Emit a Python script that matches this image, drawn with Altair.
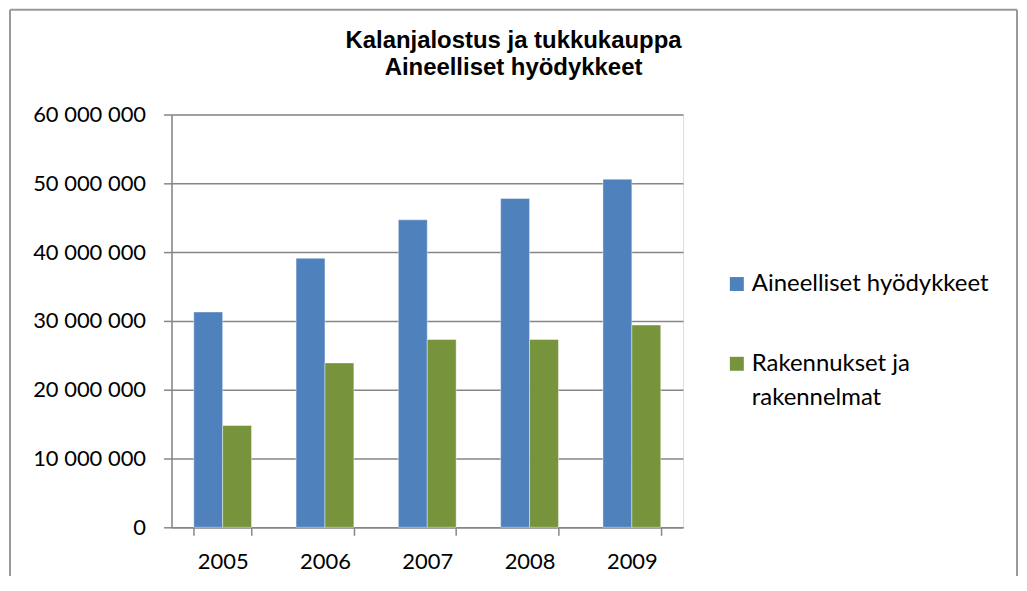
import altair as alt
import pandas as pd

years = ["2005", "2006", "2007", "2008", "2009"]
aineelliset = [31300000, 39100000, 44700000, 47800000, 50600000]
rakennukset = [14800000, 23900000, 27300000, 27300000, 29400000]
series = ["Aineelliset hyödykkeet", "Rakennukset ja rakennelmat"]
legend_lines = {"Rakennukset ja rakennelmat": ["Rakennukset ja", "rakennelmat"]}
colors = ["#4F81BD", "#77933C"]
y_ticks = [0, 10000000, 20000000, 30000000, 40000000, 50000000, 60000000]
title_lines = ["Kalanjalostus ja tukkukauppa", "Aineelliset hyödykkeet"]

rows = []
for i, yr in enumerate(years):
    rows.append({"vuosi": yr, "sarja": series[0], "arvo": aineelliset[i]})
    rows.append({"vuosi": yr, "sarja": series[1], "arvo": rakennukset[i]})
df = pd.DataFrame(rows)

W, H = 513, 414
GRAY = "#868686"
FONT = "Lato"

# legend label expression (multi-line for the long label)
expr = "datum.label"
for k, v in legend_lines.items():
    arr = "[" + ", ".join("'" + s + "'" for s in v) + "]"
    expr = f"datum.label == '{k}' ? {arr} : " + expr

bars = alt.Chart(df).mark_bar(stroke="white", strokeWidth=0.7, strokeOpacity=0.6).encode(
    x=alt.X("vuosi:N", sort=years, title=None,
            scale=alt.Scale(paddingInner=0.435, paddingOuter=0.2175),
            axis=alt.Axis(labelAngle=0, tickBand="extent", tickSize=8, tickColor=GRAY,
                          tickWidth=1.5, domainColor=GRAY, domainWidth=1.5,
                          labelFont=FONT, labelFontSize=22, labelColor="black",
                          labelPadding=16, grid=False)),
    xOffset=alt.XOffset("sarja:N", sort=series,
                        scale=alt.Scale(paddingInner=0, paddingOuter=0)),
    y=alt.Y("arvo:Q", title=None,
            scale=alt.Scale(domain=[0, 60000000], nice=False),
            axis=alt.Axis(values=y_ticks,
                          labelExpr="replace(format(datum.value, ','), /,/g, ' ')",
                          tickSize=8, tickColor=GRAY, tickWidth=1.5,
                          domainColor=GRAY, domainWidth=1.5,
                          grid=True, gridColor=GRAY, gridWidth=1.5,
                          labelFont=FONT, labelFontSize=22, labelColor="black",
                          labelPadding=18)),
    color=alt.Color("sarja:N", sort=series,
                    scale=alt.Scale(domain=series, range=colors),
                    legend=alt.Legend(title=None, orient="none", legendX=555, legendY=158,
                                      symbolType="square", symbolSize=196,
                                      symbolStrokeWidth=0, labelFont=FONT,
                                      labelFontSize=24, labelColor="black",
                                      labelOffset=3, rowPadding=56, labelLimit=400,
                                      padding=0, labelExpr=expr)),
)

one = pd.DataFrame({"k": [0]})
frame_color = "#999999"
left_line = alt.Chart(one).mark_rule(color=frame_color, strokeWidth=2).encode(
    x=alt.value(-162), y=alt.value(-105), y2=alt.value(600))
right_line = alt.Chart(one).mark_rule(color=frame_color, strokeWidth=2).encode(
    x=alt.value(848), y=alt.value(-105), y2=alt.value(600))
top_line = alt.Chart(one).mark_rule(color=frame_color, strokeWidth=2).encode(
    x=alt.value(-162), x2=alt.value(848), y=alt.value(-105))

title = alt.Chart(one).mark_text(text=title_lines, font="Liberation Sans", fontWeight="bold",
                                 fontSize=24, lineHeight=27, align="center",
                                 baseline="alphabetic", color="black").encode(
    x=alt.value(343), y=alt.value(-67))

chart = alt.layer(bars, left_line, right_line, top_line, title).properties(
    width=W, height=H,
    autosize=alt.AutoSizeParams(type="none"),
    padding={"left": 164, "top": 106, "right": 337, "bottom": 48},
).configure_view(stroke=None).configure(
    background="white", style={"guide-label": {"lineHeight": 34}})

chart.save("out.html", embed_options={"renderer": "svg", "actions": False})
